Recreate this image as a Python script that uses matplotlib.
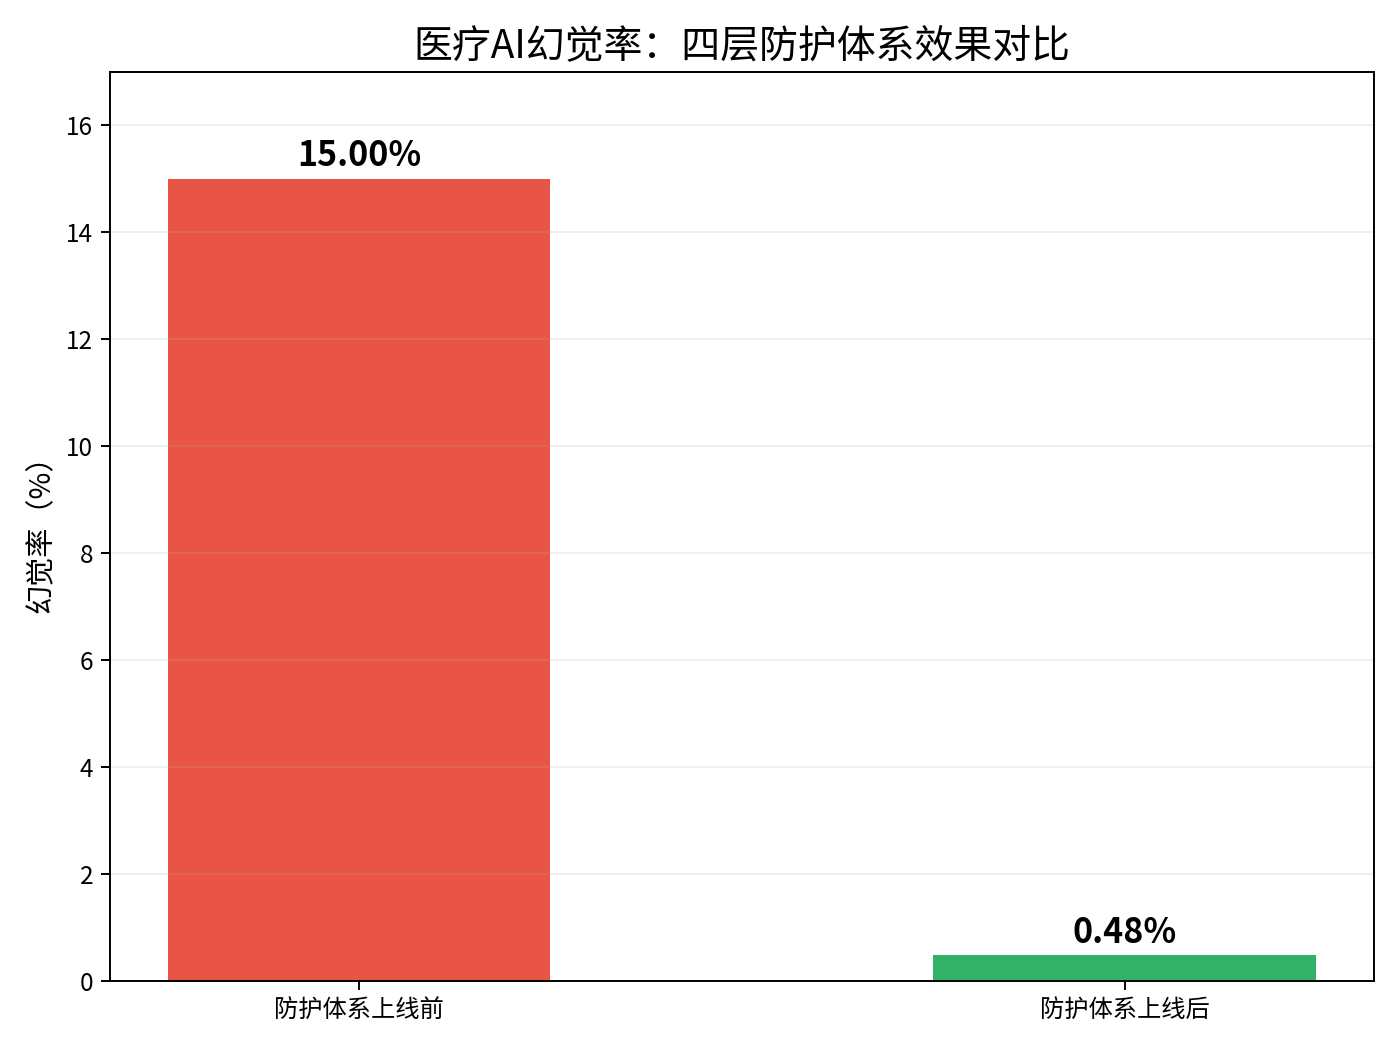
import matplotlib
matplotlib.use("Agg")
import matplotlib.pyplot as plt

plt.rcParams['font.family'] = ['Noto Sans CJK SC', 'DejaVu Sans']
plt.rcParams['axes.unicode_minus'] = False

categories = ["防护体系上线前", "防护体系上线后"]
rates = [15.00, 0.48]
colors = ["#e74c3c", "#27ae60"]

fig, ax = plt.subplots(figsize=(8, 6), dpi=175)

bars = ax.bar(categories, rates, color=colors, width=0.5, alpha=0.95)

# value labels above the bars
for bar, val in zip(bars, rates):
    ax.text(bar.get_x() + bar.get_width() / 2, bar.get_height() + 0.1,
            f"{val:.2f}%", ha="center", va="bottom",
            fontsize=14, fontweight="bold")

ax.set_ylim(0, 17)
ax.set_ylabel("幻觉率（%）", fontsize=12)
ax.set_title("医疗AI幻觉率：四层防护体系效果对比", fontsize=16)
ax.grid(axis="y", alpha=0.2)

plt.tight_layout()
plt.savefig("out.png", dpi=175)
plt.close()
